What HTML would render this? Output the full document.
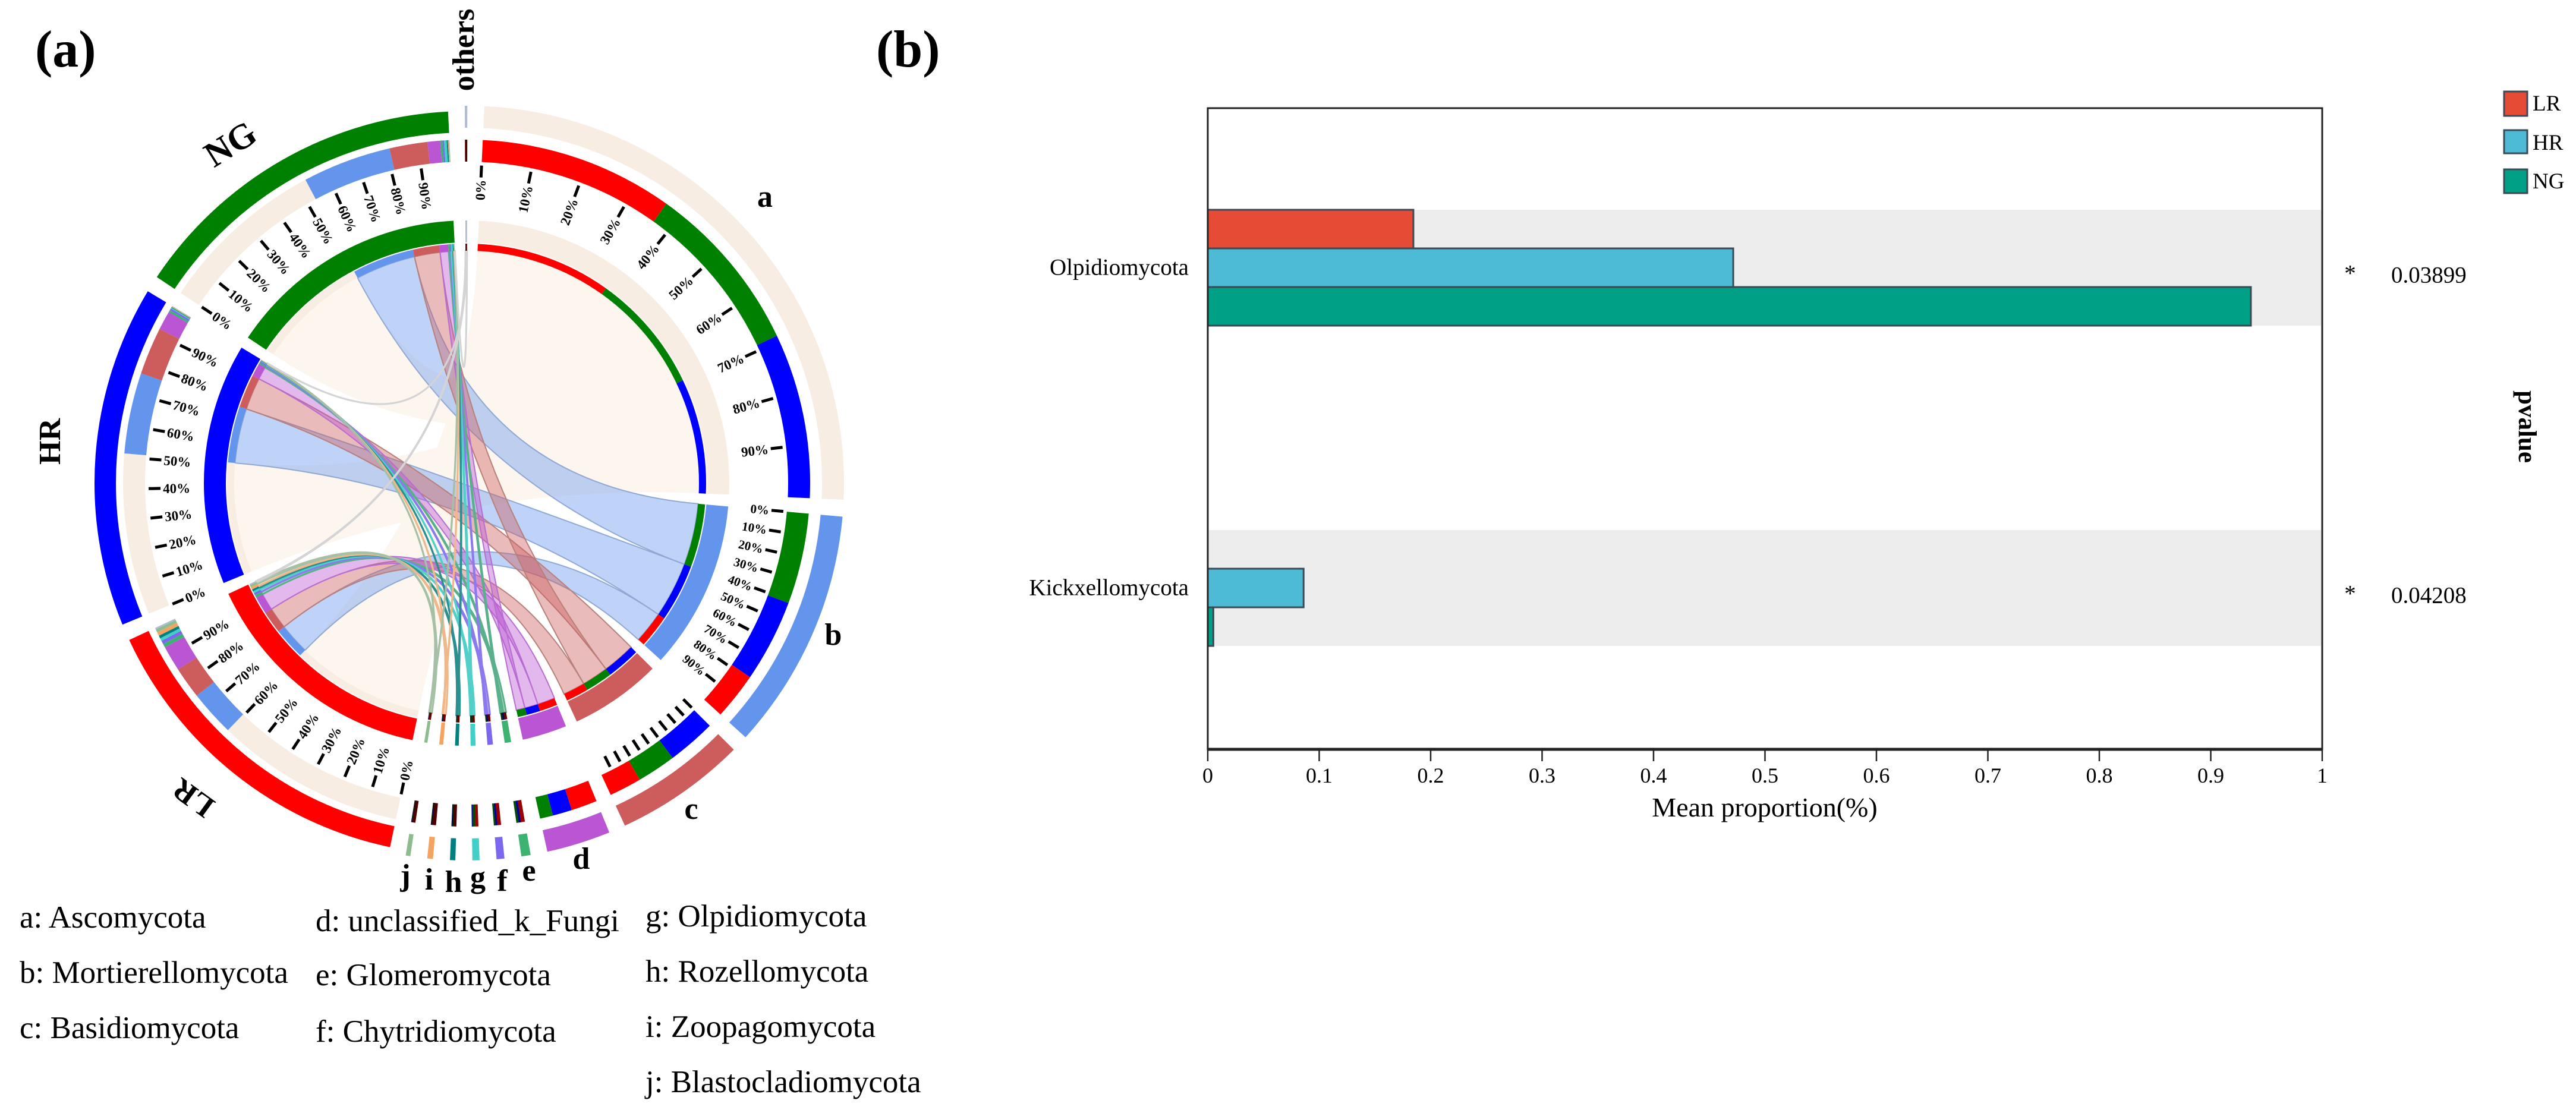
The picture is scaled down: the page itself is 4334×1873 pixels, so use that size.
<!DOCTYPE html>
<html lang="en">
<head>
<meta charset="utf-8">
<title>Fungal phyla chord diagram and mean proportion bars</title>
<style>
html,body{margin:0;padding:0;background:#fff;}
svg{display:block;}
text{font-family:"Liberation Serif",serif;fill:#000;}
.panel{font-size:88px;font-weight:bold;}
.sec{font-size:52px;font-weight:bold;text-anchor:middle;}
.leg{font-size:53px;}
.tk{font-size:36px;text-anchor:middle;}
.cat{font-size:39px;text-anchor:end;}
.pv{font-size:39px;}
.lg{font-size:37px;}
</style>
</head>
<body>
<svg id="figure" xmlns="http://www.w3.org/2000/svg" width="4334" height="1873" viewBox="0 0 4334 1873">
  <rect x="0" y="0" width="4334" height="1873" fill="#ffffff"/>
  <g id="chord"></g>
  <g id="bars"></g>

  <text class="panel" x="59" y="112">(a)</text>
  <text class="panel" x="1474" y="112">(b)</text>

  <text class="sec" x="1287" y="348">a</text>
  <text class="sec" x="1402" y="1085">b</text>
  <text class="sec" x="1163" y="1378">c</text>
  <text class="sec" x="978" y="1462">d</text>
  <text class="sec" x="890" y="1482">e</text>
  <text class="sec" x="845" y="1499">f</text>
  <text class="sec" x="804" y="1493">g</text>
  <text class="sec" x="763" y="1501">h</text>
  <text class="sec" x="722" y="1497">i</text>
  <text class="sec" x="682" y="1490">j</text>
  <text class="sec" transform="translate(797,84) rotate(-90)">others</text>
  <text class="sec" style="font-size:60px" transform="translate(398,259) rotate(-32)">NG</text>
  <text class="sec" transform="translate(101,743) rotate(-90)">HR</text>
  <text class="sec" transform="translate(335,1329) rotate(216)">LR</text>

  <g>
    <text class="leg" x="33" y="1561">a: Ascomycota</text>
    <text class="leg" x="33" y="1654">b: Mortierellomycota</text>
    <text class="leg" x="33" y="1747">c: Basidiomycota</text>
    <text class="leg" x="531" y="1567">d: unclassified_k_Fungi</text>
    <text class="leg" x="531" y="1658">e: Glomeromycota</text>
    <text class="leg" x="531" y="1753">f: Chytridiomycota</text>
    <text class="leg" x="1086" y="1559">g: Olpidiomycota</text>
    <text class="leg" x="1086" y="1652">h: Rozellomycota</text>
    <text class="leg" x="1086" y="1745">i: Zoopagomycota</text>
    <text class="leg" x="1086" y="1838">j: Blastocladiomycota</text>
  </g>

  <text x="2969" y="1374" font-size="46" text-anchor="middle">Mean proportion(%)</text>
  <text transform="translate(4238,718) rotate(90)" font-size="43" font-weight="bold" text-anchor="middle">pvalue</text>

  <g>
    <rect x="4213" y="154" width="39" height="41" fill="#E64B35" stroke="#3c4a55" stroke-width="3"/>
    <rect x="4213" y="219" width="39" height="39" fill="#4DBBD5" stroke="#3c4a55" stroke-width="3"/>
    <rect x="4213" y="285" width="39" height="40" fill="#00A087" stroke="#3c4a55" stroke-width="3"/>
    <text class="lg" x="4261" y="186">LR</text>
    <text class="lg" x="4261" y="252">HR</text>
    <text class="lg" x="4261" y="317">NG</text>
  </g>
</svg>

<script>
/* ---------- chord data ---------- */
const sampleNames = ['LR', 'HR', 'NG'];
const phylumNames = ['a', 'b', 'c', 'd', 'e', 'f', 'g', 'h', 'i', 'j', 'others'];
const valuesLR = [60, 14.5, 10, 8, 1.2, 1.1, 0.9, 0.9, 1.2, 1, 0.5];
const valuesHR = [51, 25.5, 15, 6, 0.7, 0.6, 0.3, 0.2, 0.2, 0.1, 0.1];
const valuesNG = [53, 28, 12, 4, 0.7, 0.5, 0.8, 0.4, 0.2, 0.2, 0.1];
const tickPercents = [0, 10, 20, 30, 40, 50, 60, 70, 80, 90];

/* ---------- bar data ---------- */
const barCategories = ['Olpidiomycota', 'Kickxellomycota'];
const barLR = [0.1845, 0];
const barHR = [0.4715, 0.086];
const barNG = [0.936, 0.005];
const barTicks = [0, 0.1, 0.2, 0.3, 0.4, 0.5, 0.6, 0.7, 0.8, 0.9, 1];
const barStars = ['*', '*'];
const barPvalues = ['0.03899', '0.04208'];

/* ---------- styling ---------- */
const sampleColors = {LR: '#ff0000', HR: '#0000ff', NG: '#008000'};
const phylumColors = ['#f7ede3', '#6495ed', '#cd5c5c', '#ba55d3', '#3cb371', '#7b68ee', '#40d0c8', '#008080', '#f4a460', '#8fbc8f', '#b0bcd0'];
const ribbonFills = ['#fdf6ef', '#6495ed', '#cd5c5c', '#ba55d3', '#3cb371', '#7b68ee', '#40d0c8', '#008080', '#f4a460', '#8fbc8f', '#b0bcd0'];
const ribbonOpacities = [1, 0.42, 0.42, 0.42, 0.42, 0.42, 0.42, 0.42, 0.42, 0.42, 0.15];
const ribbonStrokes = ['none', '#90a8d4', '#b8807a', '#b86ed0', '#5ab08a', '#8a7aee', '#50d0c8', '#2a8f8f', '#f0b88a', '#a5c0a5', '#d4d4d4'];
const matrix = [valuesLR, valuesHR, valuesNG];

const NS = 'http://www.w3.org/2000/svg';
function make(parent, tag, attrs) {
  const el = document.createElementNS(NS, tag);
  for (const k in attrs) el.setAttribute(k, attrs[k]);
  parent.appendChild(el);
  return el;
}

/* ---------- chord layout ---------- */
const chord = document.getElementById('chord');
const cx = 785, cy = 813;
const startAngle = 2.7;
const arcPhyla = 163.7, arcSamples = 160.1;
const gap = (360 - arcPhyla - arcSamples) / 14;
const firstPhylumOverlap = 12;
const R = {
  phylumOuterHi: 635, phylumOuterLo: 598,
  sampleOuterHi: 626, sampleOuterLo: 590,
  secondHi: 578, secondLo: 541,
  tickHi: 535, tickLo: 515, labelR: 511,
  ringHi: 442, ringLo: 405, thinHi: 403, thinLo: 391
};

function pt(theta, r) {
  const a = theta * Math.PI / 180;
  return [cx + r * Math.sin(a), cy - r * Math.cos(a)];
}
function fmt(p) { return p[0].toFixed(2) + ' ' + p[1].toFixed(2); }
function sectorPath(t0, t1, r0, r1) {
  const large = (t1 - t0) > 180 ? 1 : 0;
  return 'M' + fmt(pt(t0, r1)) +
    ' A' + r1 + ' ' + r1 + ' 0 ' + large + ' 1 ' + fmt(pt(t1, r1)) +
    ' L' + fmt(pt(t1, r0)) +
    ' A' + r0 + ' ' + r0 + ' 0 ' + large + ' 0 ' + fmt(pt(t0, r0)) + ' Z';
}
function ribbonPath(a0, a1, b0, b1, r) {
  return 'M' + fmt(pt(a0, r)) +
    ' A' + r + ' ' + r + ' 0 0 1 ' + fmt(pt(a1, r)) +
    ' Q' + cx + ' ' + cy + ' ' + fmt(pt(b0, r)) +
    ' A' + r + ' ' + r + ' 0 0 1 ' + fmt(pt(b1, r)) +
    ' Q' + cx + ' ' + cy + ' ' + fmt(pt(a0, r)) + ' Z';
}

const phylumTotals = phylumNames.map((_, i) => matrix.reduce((s, row) => s + row[i], 0));
const sampleTotals = matrix.map(row => row.reduce((s, v) => s + v, 0));
const grand = phylumTotals.reduce((s, v) => s + v, 0);
const kP = arcPhyla / grand, kS = arcSamples / grand;

/* sector spans: phyla clockwise, then samples, with 'others' closing the circle */
let cursor = startAngle;
const phylumSpan = {}, sampleSpan = {};
phylumNames.forEach((n, i) => {
  if (n === 'others') return;
  phylumSpan[i] = [cursor, cursor + phylumTotals[i] * kP];
  cursor = phylumSpan[i][1] + gap;
});
sampleNames.forEach((n, j) => {
  sampleSpan[j] = [cursor, cursor + sampleTotals[j] * kS];
  cursor = sampleSpan[j][1] + gap;
});
phylumSpan[phylumNames.length - 1] = [cursor, cursor + phylumTotals[phylumNames.length - 1] * kP];

/* slices inside each phylum sector: largest sample first */
const phylumSlices = {};
phylumNames.forEach((n, i) => {
  const order = sampleNames.map((_, j) => j).sort((p, q) => matrix[q][i] - matrix[p][i]);
  let t = phylumSpan[i][0];
  phylumSlices[i] = {};
  order.forEach(j => {
    phylumSlices[i][j] = [t, t + matrix[j][i] * kP];
    t += matrix[j][i] * kP;
  });
  phylumSlices[i].order = order;
});
/* slices inside each sample sector: in phylum order */
const sampleSlices = {};
sampleNames.forEach((n, j) => {
  let t = sampleSpan[j][0];
  sampleSlices[j] = {};
  phylumNames.forEach((_, i) => {
    sampleSlices[j][i] = [t, t + matrix[j][i] * kS];
    t += matrix[j][i] * kS;
  });
});

/* ribbons */
const ribbonGroup = make(chord, 'g', {});


phylumNames.forEach((pn, i) => {
  sampleNames.forEach((sn, j) => {
    const s = sampleSlices[j][i], p = phylumSlices[i][j];
    const isFirst = i === 0;
    const pStart = (isFirst && p[0] > phylumSpan[i][0] + 0.01) ? p[0] - firstPhylumOverlap : p[0];
    const rib = make(ribbonGroup, 'path', {
      d: ribbonPath(s[0], s[1], pStart, p[1], R.thinLo),
      fill: ribbonFills[i],
      'fill-opacity': ribbonOpacities[i],
      stroke: ribbonStrokes[i],
      'stroke-width': i >= 4 ? 3 : 2
    });
    
    
  });
});

/* tracks */
const trackGroup = make(chord, 'g', {});



phylumNames.forEach((pn, i) => {
  const span = phylumSpan[i];
  const outer = make(trackGroup, 'path', {d: sectorPath(span[0], span[1], R.phylumOuterLo, R.phylumOuterHi), fill: phylumColors[i]});
  
  
  const ring = make(trackGroup, 'path', {d: sectorPath(span[0], span[1], R.ringLo, R.ringHi), fill: phylumColors[i]});
  
  
  phylumSlices[i].order.forEach(j => {
    const sl = phylumSlices[i][j];
    const second = make(trackGroup, 'path', {d: sectorPath(sl[0], sl[1], R.secondLo, R.secondHi), fill: sampleColors[sampleNames[j]]});
    
    
    const thin = make(trackGroup, 'path', {d: sectorPath(sl[0], sl[1], R.thinLo, R.thinHi), fill: sampleColors[sampleNames[j]]});
    
    
  });
  /* the narrowest sectors read as near-black slivers in the source figure */
  if (phylumTotals[i] < 4) {
    const shade = make(trackGroup, 'path', {d: sectorPath(span[0], span[1], R.secondLo, R.secondHi), fill: '#000', 'fill-opacity': phylumTotals[i] < 2 ? 0.7 : 0.4});
    
    
    const shadeThin = make(trackGroup, 'path', {d: sectorPath(span[0], span[1], R.thinLo, R.thinHi), fill: '#000', 'fill-opacity': 0.6});
    
    
  }
});

sampleNames.forEach((sn, j) => {
  const span = sampleSpan[j];
  const outer = make(trackGroup, 'path', {d: sectorPath(span[0], span[1], R.sampleOuterLo, R.sampleOuterHi), fill: sampleColors[sn]});
  
  
  const ring = make(trackGroup, 'path', {d: sectorPath(span[0], span[1], R.ringLo, R.ringHi), fill: sampleColors[sn]});
  
  
  phylumNames.forEach((pn, i) => {
    const sl = sampleSlices[j][i];
    const second = make(trackGroup, 'path', {d: sectorPath(sl[0], sl[1], R.secondLo, R.secondHi), fill: phylumColors[i]});
    
    
    const thin = make(trackGroup, 'path', {d: sectorPath(sl[0], sl[1], R.thinLo, R.thinHi), fill: phylumColors[i]});
    
    
  });
});

/* ticks */
const tickGroup = make(chord, 'g', {});


function drawTicks(span, name, withLabels, fontSize) {
  tickPercents.forEach(pct => {
    const th = span[0] + (span[1] - span[0]) * pct / 100;
    const p0 = pt(th, R.tickLo), p1 = pt(th, R.tickHi);
    const tick = make(tickGroup, 'line', {x1: p0[0], y1: p0[1], x2: p1[0], y2: p1[1], stroke: '#000', 'stroke-width': 5});
    
    
    if (!withLabels) return;
    const q = pt(th, R.labelR);
    const norm = ((th % 360) + 360) % 360;
    const flip = norm < 180;
    const lab = make(tickGroup, 'text', {
      transform: 'translate(' + q[0].toFixed(2) + ',' + q[1].toFixed(2) + ') rotate(' + (flip ? norm - 90 : norm + 90).toFixed(2) + ')',
      'text-anchor': flip ? 'end' : 'start',
      dy: '0.35em',
      'font-size': fontSize,
      'font-weight': 'bold'
    });
    lab.textContent = pct + '%';
    
    
  });
}
drawTicks(phylumSpan[0], 'a', true, 23);
drawTicks(phylumSpan[1], 'b', true, 21);
drawTicks(phylumSpan[2], 'c', false, 21);
sampleNames.forEach((sn, j) => drawTicks(sampleSpan[j], sn, true, 23));

/* ---------- bar chart ---------- */
const bars = document.getElementById('bars');
const plot = {left: 2032, right: 3907, top: 182, bottom: 1261};
const bandRight = 3905;
const barHeight = 65;
const bandHeight = 195;
function xScale(v) { return plot.left + v * (plot.right - plot.left); }
function yScale(i) { return 450.5 + i * 539; }

barCategories.forEach((cat, i) => {
  const band = make(bars, 'rect', {x: plot.left, y: yScale(i) - bandHeight / 2, width: bandRight - plot.left, height: bandHeight, fill: '#ededed'});
  
  
});

const barSeries = [
  {name: 'LR', values: barLR, color: '#E64B35'},
  {name: 'HR', values: barHR, color: '#4DBBD5'},
  {name: 'NG', values: barNG, color: '#00A087'}
];
barCategories.forEach((cat, i) => {
  barSeries.forEach((s, j) => {
    if (s.values[i] <= 0) return;
    const bar = make(bars, 'rect', {
      x: xScale(0),
      y: yScale(i) - bandHeight / 2 + j * barHeight,
      width: xScale(s.values[i]) - xScale(0),
      height: barHeight,
      fill: s.color,
      stroke: '#3c4a55',
      'stroke-width': 3
    });
    
    
  });
  const label = make(bars, 'text', {class: 'cat', x: 2000, y: yScale(i) + 12});
  label.textContent = cat;
  
  
  const star = make(bars, 'text', {class: 'pv', x: 3954, y: yScale(i) + 22, 'text-anchor': 'middle'});
  star.textContent = barStars[i];
  
  
  const pv = make(bars, 'text', {class: 'pv', x: 4023, y: yScale(i) + 25});
  pv.textContent = barPvalues[i];
  
  
});

const frame = make(bars, 'rect', {x: plot.left, y: plot.top, width: plot.right - plot.left, height: plot.bottom - plot.top, fill: 'none', stroke: '#222', 'stroke-width': 3});


const xAxis = make(bars, 'line', {x1: plot.left, x2: plot.right, y1: plot.bottom, y2: plot.bottom, stroke: '#222', 'stroke-width': 5});


barTicks.forEach(v => {
  const t = make(bars, 'line', {x1: xScale(v), x2: xScale(v), y1: plot.bottom, y2: plot.bottom + 20, stroke: '#222', 'stroke-width': 2.5});
  
  
  const l = make(bars, 'text', {class: 'tk', x: xScale(v), y: 1317});
  l.textContent = String(v);
  
  
});
</script>
</body>
</html>
